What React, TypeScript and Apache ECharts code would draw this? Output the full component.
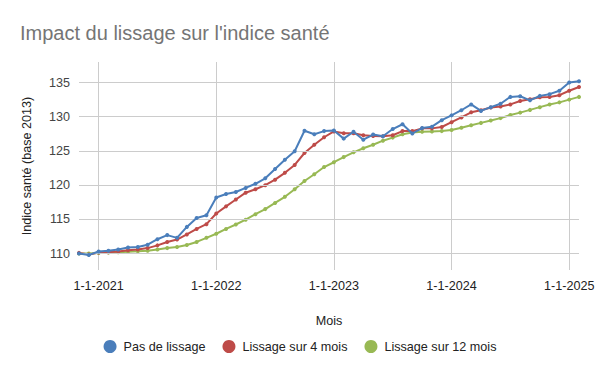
import React, { useEffect, useRef } from "react";
import * as echarts from "echarts";

const months: string[] = [
  "1-11-2020", "1-12-2020",
  "1-1-2021", "1-2-2021", "1-3-2021", "1-4-2021", "1-5-2021", "1-6-2021", "1-7-2021", "1-8-2021", "1-9-2021", "1-10-2021", "1-11-2021", "1-12-2021",
  "1-1-2022", "1-2-2022", "1-3-2022", "1-4-2022", "1-5-2022", "1-6-2022", "1-7-2022", "1-8-2022", "1-9-2022", "1-10-2022", "1-11-2022", "1-12-2022",
  "1-1-2023", "1-2-2023", "1-3-2023", "1-4-2023", "1-5-2023", "1-6-2023", "1-7-2023", "1-8-2023", "1-9-2023", "1-10-2023", "1-11-2023", "1-12-2023",
  "1-1-2024", "1-2-2024", "1-3-2024", "1-4-2024", "1-5-2024", "1-6-2024", "1-7-2024", "1-8-2024", "1-9-2024", "1-10-2024", "1-11-2024", "1-12-2024",
  "1-1-2025", "1-2-2025",
];

const pasDeLissage: number[] = [
  110.0, 109.8, 110.3, 110.4, 110.6, 110.9, 110.95, 111.3, 112.1, 112.7, 112.3, 113.9,
  115.2, 115.6, 118.2, 118.7, 119.0, 119.6, 120.2, 121.0, 122.35, 123.7, 124.95, 127.95,
  127.45, 127.9, 128.0, 126.8, 127.8, 126.65, 127.4, 127.15, 128.2, 128.9, 127.55, 128.35,
  128.55, 129.5, 130.2, 130.95, 131.8, 130.85, 131.4, 131.9, 132.9, 133.0, 132.4, 133.05,
  133.3, 133.8, 135.0, 135.2,
];

const lissage4: number[] = [
  110.1, 109.85, 110.15, 110.2, 110.3, 110.5, 110.6, 110.8, 111.2, 111.7, 112.05, 112.8,
  113.6, 114.3, 115.85, 116.9, 117.9, 118.9, 119.4, 120.0, 120.8, 121.8, 122.95, 124.7,
  125.9, 127.0, 127.85, 127.6, 127.6, 127.3, 127.2, 127.15, 127.3, 127.9, 127.9, 128.3,
  128.3, 128.5, 129.2, 129.9, 130.65, 130.95, 131.35, 131.5, 131.8, 132.3, 132.55, 132.85,
  132.9, 133.15, 133.8, 134.35,
];

const lissage12: number[] = [
  110.0, 110.0, 110.1, 110.15, 110.2, 110.25, 110.35, 110.4, 110.6, 110.8, 110.95, 111.25,
  111.7, 112.3, 112.9, 113.6, 114.25, 114.95, 115.75, 116.5, 117.4, 118.3, 119.4, 120.6,
  121.6, 122.65, 123.35, 124.1, 124.8, 125.4, 125.9, 126.5, 126.95, 127.45, 127.7, 127.8,
  127.85, 127.9, 128.05, 128.4, 128.75, 129.1, 129.45, 129.8, 130.25, 130.6, 131.0, 131.4,
  131.8, 132.1, 132.5, 132.9,
];

const yTicks: number[] = [110, 115, 120, 125, 130, 135];

const seriesNames: string[] = ["Pas de lissage", "Lissage sur 4 mois", "Lissage sur 12 mois"];
const colors: string[] = ["#4a7ebb", "#be4b48", "#98b954"];

const FONT = "Liberation Sans";
const FS = 12.6;

export default function App() {
  const ref = useRef<HTMLDivElement>(null);
  useEffect(() => {
    if (!ref.current) return;
    const chart = echarts.init(ref.current, undefined, { renderer: "svg" });
    const isJan = (_i: number, v: string) => typeof v === "string" && v.startsWith("1-1-");
    const dataSets = [pasDeLissage, lissage4, lissage12];
    chart.setOption({
      animation: false,
      backgroundColor: "#ffffff",
      textStyle: { fontFamily: FONT },
      title: {
        text: "Impact du lissage sur l'indice santé",
        left: 15,
        top: 18,
        textStyle: { fontFamily: FONT, fontSize: 20, fontWeight: "normal", color: "#757575" },
      },
      grid: { left: 79, right: 21, top: 62, bottom: 101 },
      legend: {
        data: seriesNames,
        bottom: 13,
        left: "center",
        icon: "circle",
        itemWidth: 13,
        itemHeight: 13,
        itemGap: 17,
        textStyle: { fontFamily: FONT, fontSize: FS, color: "#222222", padding: [0, 0, 0, 2] },
      },
      xAxis: {
        type: "category",
        data: months,
        boundaryGap: false,
        name: "Mois",
        nameLocation: "middle",
        nameGap: 44,
        nameTextStyle: { fontFamily: FONT, fontSize: FS, color: "#222222" },
        axisLine: { show: false },
        axisTick: { show: false },
        axisLabel: { interval: isJan, margin: 9, fontSize: FS, color: "#222222", fontFamily: FONT },
        splitLine: { show: true, interval: isJan, lineStyle: { color: "#cccccc", width: 1 } },
      },
      yAxis: {
        type: "value",
        min: 107.6,
        max: 138,
        name: "Indice santé (base 2013)",
        nameLocation: "middle",
        nameGap: 46,
        nameTextStyle: { fontFamily: FONT, fontSize: FS, color: "#222222" },
        axisLine: { show: false },
        axisTick: { show: false },
        splitLine: { show: false },
        axisLabel: { customValues: yTicks, margin: 9, fontSize: FS, color: "#444444", fontFamily: FONT },
      },
      series: [
        {
          name: "__grid",
          type: "line",
          data: [],
          silent: true,
          z: 1,
          markLine: {
            silent: true,
            symbol: ["none", "none"],
            label: { show: false },
            lineStyle: { color: "#cccccc", width: 1, type: "solid" },
            emphasis: { disabled: true },
            data: yTicks.map((v) => ({ yAxis: v })),
          },
        },
        ...seriesNames.map((n, k) => ({
          name: n,
          type: "line",
          data: dataSets[k],
          z: 3 + (2 - k),
          symbol: "circle",
          symbolSize: 4,
          showSymbol: true,
          itemStyle: { color: colors[k] },
          lineStyle: { color: colors[k], width: 2 },
        })),
      ],
    });
    return () => chart.dispose();
  }, []);
  return <div ref={ref} style={{ width: 600, height: 371, position: "absolute", left: 0, top: 0 }} />;
}
